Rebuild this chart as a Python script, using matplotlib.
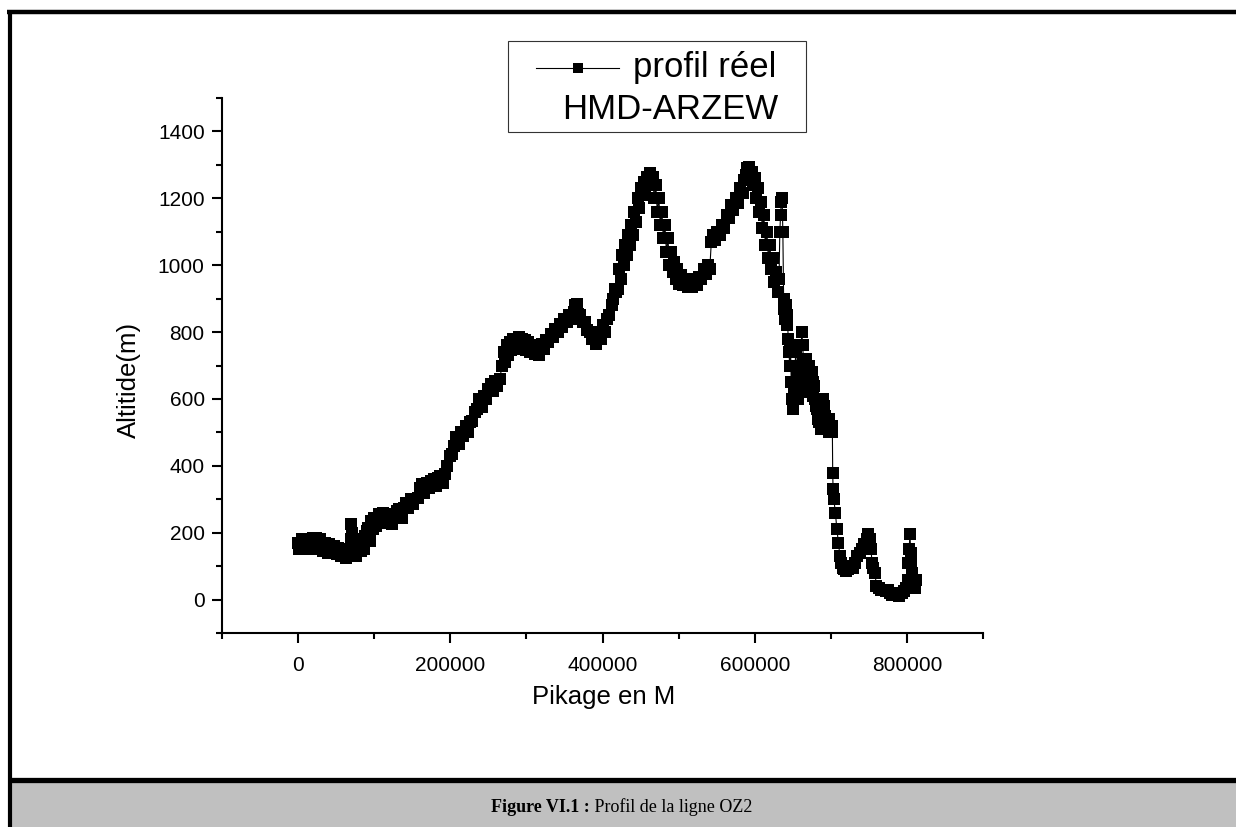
import matplotlib
matplotlib.use("Agg")
import matplotlib.pyplot as plt
from matplotlib.lines import Line2D
from matplotlib.patches import Rectangle
from matplotlib.ticker import MultipleLocator

plt.rcParams['font.family'] = ['Liberation Sans', 'DejaVu Sans']

# ---- data ----
pk_m = [0, 1500, 3000, 5000, 7000, 9000, 11000, 13000, 15000, 17000,
        19000, 21000, 23000, 25000, 27000, 29000, 31000, 33000, 35000, 37000,
        39000, 41000, 43000, 45000, 47000, 49000, 51000, 53000, 55000, 57000,
        59000, 61000, 63000, 65000, 67000, 69000, 70000, 71000, 72000, 74000,
        76000, 78000, 80000, 82000, 84000, 86000, 88000, 90000, 92000, 94000,
        96000, 98000, 100000, 103000, 106000, 109000, 112000, 115000, 118000, 121000,
        124000, 127000, 130000, 133000, 136000, 139000, 142000, 145000, 148000, 151000,
        157000, 160000, 163000, 166000, 169000, 172000, 175000, 178000, 181000, 184000,
        187000, 190000, 193000, 196000, 199000, 202000, 205000, 208000, 211000, 214000,
        217000, 220000, 223000, 226000, 229000, 232000, 235000, 238000, 241000, 244000,
        247000, 250000, 253000, 256000, 259000, 262000, 265000, 268000, 270000, 272000,
        274000, 276000, 278000, 280000, 282000, 284000, 286000, 288000, 290000, 292000,
        294000, 296000, 298000, 300000, 302000, 305000, 308000, 311000, 314000, 317000,
        320000, 323000, 326000, 329000, 332000, 335000, 338000, 341000, 344000, 347000,
        350000, 353000, 356000, 359000, 362000, 364000, 366000, 368000, 371000, 374000,
        377000, 380000, 383000, 386000, 389000, 392000, 394000, 396000, 398000, 400000,
        403000, 406000, 409000, 412000, 414000, 416000, 418000, 420000, 422000, 424000,
        426000, 428000, 430000, 432000, 434000, 436000, 438000, 440000, 442000, 444000,
        446000, 448000, 450000, 452000, 454000, 456000, 458000, 460000, 462000, 464000,
        466000, 468000, 470000, 472000, 474000, 476000, 478000, 480000, 482000, 484000,
        486000, 488000, 490000, 492000, 494000, 496000, 498000, 500000, 503000, 506000,
        509000, 512000, 515000, 518000, 521000, 524000, 527000, 530000, 533000, 536000,
        539000, 541000, 543000, 545000, 548000, 551000, 554000, 557000, 560000, 563000,
        566000, 569000, 572000, 575000, 578000, 581000, 584000, 586000, 588000, 590000,
        592000, 594000, 596000, 598000, 600000, 602000, 604000, 606000, 608000, 610000,
        612000, 614000, 616000, 618000, 620000, 622000, 624000, 626000, 628000, 630000,
        632000, 633000, 634000, 635000, 636000, 637000, 638000, 639000, 640000, 641000,
        642000, 643000, 644000, 645000, 646000, 647000, 648000, 649000, 650000, 651000,
        653000, 654000, 655000, 656000, 657000, 658000, 659000, 660000, 661000, 662000,
        663000, 664000, 665000, 666000, 667000, 668000, 669000, 670000, 671000, 672000,
        673000, 674000, 675000, 676000, 677000, 678000, 679000, 680000, 682000, 683000,
        685000, 687000, 689000, 690000, 691000, 693000, 695000, 697000, 698000, 699000,
        701000, 702000, 702500, 703000, 704000, 706000, 708000, 710000, 712000, 714000,
        716000, 718000, 720000, 723000, 726000, 729000, 732000, 735000, 738000, 741000,
        744000, 747000, 749000, 751000, 753000, 754000, 756000, 758000, 760000, 763000,
        766000, 769000, 772000, 775000, 778000, 781000, 784000, 787000, 790000, 793000,
        796000, 799000, 801000, 802000, 803000, 804000, 805000, 806000, 807000, 808000,
        809000, 810000, 811000, 812000]
altitude_m = [170, 150, 165, 180, 150, 165, 175, 150, 175, 160,
              185, 160, 185, 165, 150, 180, 160, 145, 170, 150,
              140, 165, 145, 140, 160, 145, 135, 155, 140, 130,
              150, 135, 125, 145, 130, 180, 225, 200, 165, 140,
              130, 160, 180, 145, 165, 150, 190, 205, 215, 175,
              235, 210, 245, 220, 255, 235, 260, 230, 255, 240,
              225, 250, 265, 270, 245, 275, 290, 275, 300, 285,
              305, 335, 345, 320, 350, 335, 355, 360, 340, 365,
              370, 350, 375, 400, 430, 435, 460, 485, 465, 500,
              490, 520, 500, 530, 535, 560, 570, 600, 575, 610,
              600, 630, 645, 625, 655, 640, 660, 700, 740, 710,
              760, 730, 770, 745, 780, 755, 780, 750, 785, 755,
              780, 750, 775, 745, 770, 740, 760, 735, 755, 730,
              765, 750, 775, 770, 795, 785, 810, 800, 825, 815,
              840, 830, 850, 840, 860, 880, 885, 855, 850, 830,
              830, 805, 800, 780, 785, 765, 790, 800, 780, 820,
              800, 840, 850, 880, 900, 930, 920, 930, 990, 960,
              1030, 1000, 1060, 1030, 1090, 1060, 1120, 1090, 1160, 1130,
              1200, 1170, 1230, 1210, 1250, 1235, 1265, 1250, 1275, 1260,
              1265, 1200, 1240, 1160, 1200, 1120, 1160, 1080, 1120, 1040,
              1080, 1000, 1040, 980, 1010, 960, 990, 945, 970, 940,
              960, 935, 955, 935, 960, 940, 965, 960, 990, 975,
              1000, 990, 1070, 1090, 1075, 1100, 1090, 1120, 1110, 1150,
              1140, 1180, 1165, 1200, 1185, 1230, 1215, 1255, 1270, 1290,
              1295, 1275, 1280, 1240, 1260, 1200, 1230, 1160, 1190, 1110,
              1150, 1060, 1100, 1020, 1060, 990, 1020, 950, 980, 920,
              960, 1100, 1150, 1190, 1200, 1100, 900, 870, 840, 880,
              820, 850, 780, 740, 700, 760, 650, 600, 570, 620,
              700, 740, 680, 640, 600, 620, 660, 700, 760, 800,
              760, 720, 690, 650, 680, 720, 700, 660, 640, 700,
              660, 620, 680, 650, 610, 640, 600, 580, 570, 540,
              530, 510, 560, 600, 580, 550, 520, 500, 540, 520,
              500, 520, 380, 330, 300, 260, 210, 170, 130, 110,
              95, 90, 85, 90, 100, 95, 110, 130, 140, 150,
              165, 180, 195, 180, 150, 110, 95, 80, 40, 35,
              30, 30, 25, 30, 20, 15, 20, 15, 10, 20,
              25, 35, 60, 110, 150, 195, 140, 110, 80, 60,
              40, 50, 35, 60]

x_ticks = [0, 200000, 400000, 600000, 800000]
y_ticks = [0, 200, 400, 600, 800, 1000, 1200, 1400]

W, H = 1236, 827
fig = plt.figure(figsize=(W / 100, H / 100), dpi=100)

def fx(px):
    return px / W

def fy(py):
    return 1 - py / H

ax_l, ax_r, ax_t, ax_b = 222, 983, 98, 633
ax = fig.add_axes([fx(ax_l), fy(ax_b), fx(ax_r) - fx(ax_l), fy(ax_t) - fy(ax_b)])
ax.plot(pk_m, altitude_m, color='black', lw=0.8, marker='s',
        markersize=8, markeredgewidth=0, markerfacecolor='black')

ax.set_xlim(-100000, 900000)
ax.set_ylim(-100, 1500)
ax.set_xticks(x_ticks)
ax.set_xticklabels([str(t) for t in x_ticks])
ax.set_yticks(y_ticks)
ax.set_yticklabels([str(t) for t in y_ticks])
ax.xaxis.set_minor_locator(MultipleLocator(100000))
ax.yaxis.set_minor_locator(MultipleLocator(100))
for s in ['top', 'right']:
    ax.spines[s].set_visible(False)
for s in ['left', 'bottom']:
    ax.spines[s].set_linewidth(1.5)
ax.tick_params(which='major', direction='out', length=7.5, width=1.5,
               labelsize=15)
ax.tick_params(which='minor', direction='out', length=4.5, width=1.5)
ax.tick_params(axis='x', which='major', pad=9)
ax.tick_params(axis='y', which='major', pad=5)
ax.set_xlabel('Pikage en M', fontsize=18.5)
ax.set_ylabel('Altitide(m)', fontsize=18.5)
aw, ah = ax_r - ax_l, ax_b - ax_t
ax.xaxis.set_label_coords((604 - ax_l) / aw, (ax_b - 685) / ah)
ax.yaxis.set_label_coords((141 - ax_l) / aw, (ax_b - 380) / ah)

# legend box (drawn as in the original)
fig.add_artist(Rectangle((fx(508), fy(132)), fx(806) - fx(508), fy(41) - fy(132),
                         transform=fig.transFigure, fill=False,
                         edgecolor='#333333', lw=0.8))
fig.add_artist(Line2D([fx(536), fx(619)], [fy(67.5), fy(67.5)],
                      transform=fig.transFigure, color='black', lw=0.8))
fig.add_artist(Line2D([fx(578)], [fy(67.5)], transform=fig.transFigure,
                      color='black', marker='s', markersize=7,
                      markeredgewidth=0))
fig.text(fx(633), fy(77), 'profil réel', fontsize=25, ha='left', va='baseline')
fig.text(fx(562), fy(119), 'HMD-ARZEW', fontsize=25, ha='left', va='baseline')

# page frame and caption band
fig.add_artist(Rectangle((fx(11), 0), 1 - fx(11), fy(783),
                         transform=fig.transFigure, facecolor='#C0C0C0',
                         edgecolor='none'))
fig.add_artist(Line2D([fx(7), 1], [fy(11.5), fy(11.5)], transform=fig.transFigure,
                      color='black', lw=3.2, solid_capstyle='butt'))
fig.add_artist(Line2D([fx(9.5), fx(9.5)], [0, fy(10)], transform=fig.transFigure,
                      color='black', lw=3.0, solid_capstyle='butt'))
fig.add_artist(Line2D([fx(8), 1], [fy(780), fy(780)], transform=fig.transFigure,
                      color='black', lw=3.8, solid_capstyle='butt'))

cap_font = ['Liberation Serif', 'DejaVu Serif']
t1 = fig.text(0, fy(812), 'Figure VI.1 :', fontsize=13, fontweight='bold',
              family=cap_font, ha='left', va='baseline')
t2 = fig.text(0, fy(812), ' Profil de la ligne OZ2', fontsize=13,
              family=cap_font, ha='left', va='baseline')
fig.canvas.draw()
r = fig.canvas.get_renderer()
w1 = t1.get_window_extent(r).width
w2 = t2.get_window_extent(r).width
start = 622 - (w1 + w2) / 2
t1.set_x(fx(start))
t2.set_x(fx(start + w1))

fig.savefig('out.png', dpi=100)
